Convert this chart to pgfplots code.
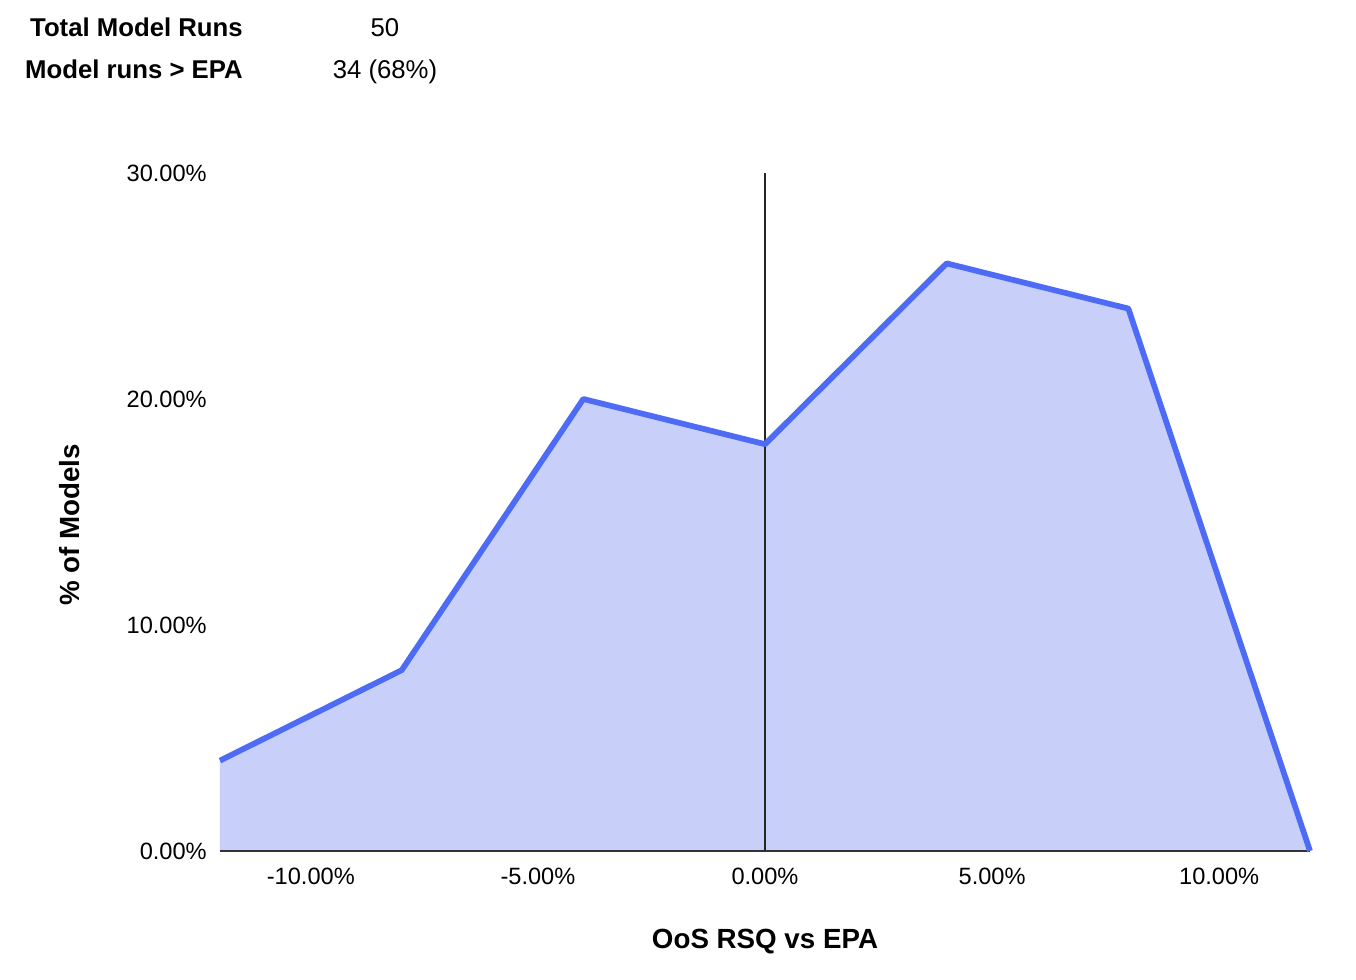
\documentclass[border=0pt]{standalone}
\usepackage{pgfplots}
\pgfplotsset{compat=1.18}
\usepackage{fontspec}
\setmainfont{Liberation Sans}
\definecolor{lineblue}{RGB}{77,107,245}
\definecolor{fillblue}{RGB}{200,208,249}
\begin{document}
\begin{tikzpicture}
\path[use as bounding box] (-165pt,-96.75pt) rectangle (852pt,638.25pt);
\begin{axis}[
  scale only axis,
  width=817.5pt, height=508.5pt,
  at={(0,0)}, anchor=south west,
  xmin=-12, xmax=12, ymin=0, ymax=30,
  axis line style={draw=none},
  major tick length=0pt,
  xtick={-10,-5,0,5,10},
  xticklabels={-10.00\%,-5.00\%,0.00\%,5.00\%,10.00\%},
  ytick={0,10,20,30},
  yticklabels={0.00\%,10.00\%,20.00\%,30.00\%},
  tick label style={font=\fontsize{17.7}{20}\selectfont},
  yticklabel style={inner sep=0pt, xshift=-9.75pt},
  xticklabel style={inner sep=0pt, yshift=-12.5pt},
  clip=false,
]
\addplot[fill=fillblue, draw=none] coordinates {(-12,4) (-8,8) (-4,20) (0,18) (4,26) (8,24) (12,0)} \closedcycle;
\addplot[black!80, line width=1pt] coordinates {(-12,0) (12,0)};
\addplot[black!85, line width=1pt] coordinates {(0,0) (0,30)};
\addplot[lineblue, line width=4.3pt, line join=round] coordinates {(-12,4) (-8,8) (-4,20) (0,18) (4,26) (8,24) (12,0)};
\end{axis}
\node[font=\fontsize{20.8}{24}\selectfont\bfseries] at (408.75pt,-68.25pt) {OoS RSQ vs EPA};
\node[font=\fontsize{20.8}{24}\selectfont\bfseries, rotate=90] at (-112.5pt,244.5pt) {\% of Models};
\node[font=\fontsize{19.3}{22}\selectfont\bfseries, anchor=base east, inner sep=0pt] at (17.25pt,610.5pt) {Total Model Runs};
\node[font=\fontsize{19.3}{22}\selectfont\bfseries, anchor=base east, inner sep=0pt] at (17.25pt,579pt) {Model runs > EPA};
\node[font=\fontsize{19.3}{22}\selectfont, anchor=base, inner sep=0pt] at (123.75pt,610.5pt) {50};
\node[font=\fontsize{19.3}{22}\selectfont, anchor=base, inner sep=0pt] at (123.75pt,579pt) {34 (68\%)};
\end{tikzpicture}
\end{document}
